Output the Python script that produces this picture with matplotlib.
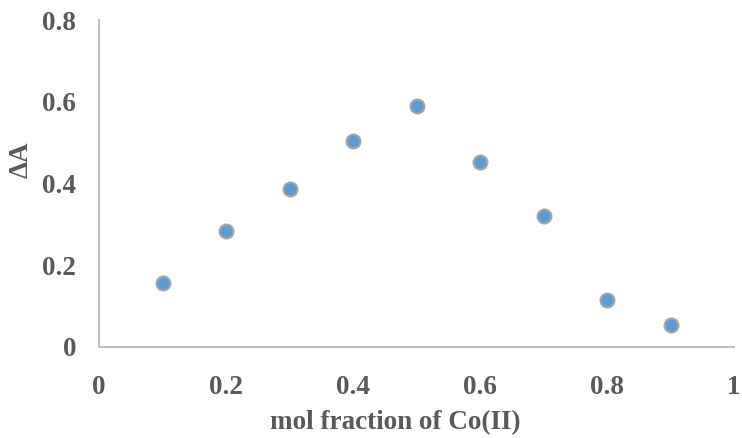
import matplotlib
matplotlib.use("Agg")
import matplotlib.pyplot as plt

# Job's plot data: mole fraction of Co(II) vs absorbance change
mol_fraction = [0.1, 0.2, 0.3, 0.4, 0.5, 0.6, 0.7, 0.8, 0.9]
delta_A = [0.157, 0.284, 0.387, 0.504, 0.590, 0.453, 0.320, 0.115, 0.054]

x_ticks = [0, 0.2, 0.4, 0.6, 0.8, 1]
x_labels = ["0", "0.2", "0.4", "0.6", "0.8", "1"]
y_ticks = [0, 0.2, 0.4, 0.6, 0.8]
y_labels = ["0", "0.2", "0.4", "0.6", "0.8"]

plt.rcParams["font.family"] = ["Liberation Serif", "DejaVu Serif"]
plt.rcParams["font.weight"] = "bold"

fig = plt.figure(figsize=(7.42, 4.38), dpi=100)
ax = fig.add_axes([99 / 742, 1 - 347 / 438, 635 / 742, 327 / 438])

ax.plot(mol_fraction, delta_A, "o", color="#5B9BD5", markersize=10,
        markeredgecolor="#A5A5A5", markeredgewidth=1.5, linestyle="none")

ax.set_xlim(0, 1)
ax.set_ylim(0, 0.8)
ax.set_xticks(x_ticks)
ax.set_xticklabels(x_labels)
ax.set_yticks(y_ticks)
ax.set_yticklabels(y_labels)
ax.tick_params(length=0, labelsize=19.5, labelcolor="#595959")
ax.tick_params(axis="y", pad=16.5)
ax.tick_params(axis="x", pad=20)

for side in ["top", "right"]:
    ax.spines[side].set_visible(False)
for side in ["left", "bottom"]:
    ax.spines[side].set_color("#BFBFBF")
    ax.spines[side].set_linewidth(1.5)

ax.set_xlabel("mol fraction of Co(II)", fontsize=19.5, color="#595959",
              fontweight="bold", va="center", ha="center")
ax.xaxis.set_label_coords(0.467, -0.232)
ax.set_ylabel("ΔA", fontsize=19.5, color="#595959", fontweight="bold",
              va="center", ha="center")
ax.yaxis.set_label_coords(-0.122, 0.572)

fig.savefig("out.png", dpi=100)
